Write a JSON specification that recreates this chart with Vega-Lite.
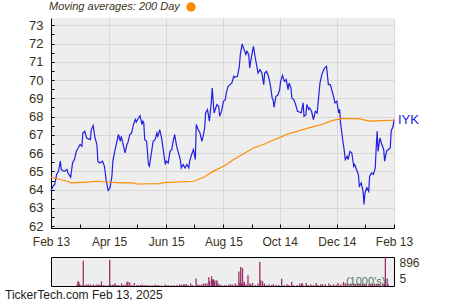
{
  "$schema": "https://vega.github.io/schema/vega-lite/v6.json",
  "padding": {"left": 5, "top": 2, "right": 5, "bottom": 2},
  "background": "white",
  "config": {
    "font": "Liberation Sans",
    "view": {"fill": "#eeeeee", "stroke": null},
    "axis": {"labelColor": "#3b3020", "labelFontSize": 12, "labelFont": "Liberation Sans", "domainColor": "#000000", "tickColor": "#000000", "gridColor": "#d8d8d8", "title": null}
  },
  "title": {"text": "TickerTech.com  Feb 13, 2025", "orient": "bottom", "anchor": "start", "fontSize": 12, "fontWeight": "normal", "font": "Liberation Sans", "color": "#222222", "offset": 2, "dx": -23.5},
  "datasets": {
    "price": [
      {"date": "2024-02-13", "value": 63.91}, {"date": "2024-02-15", "value": 64.19}, {"date": "2024-02-17", "value": 64.28}, {"date": "2024-02-19", "value": 64.83},
      {"date": "2024-02-21", "value": 65.0}, {"date": "2024-02-23", "value": 65.56}, {"date": "2024-02-24", "value": 65.1}, {"date": "2024-02-27", "value": 65.0},
      {"date": "2024-03-01", "value": 65.1}, {"date": "2024-03-02", "value": 64.92}, {"date": "2024-03-05", "value": 64.68}, {"date": "2024-03-07", "value": 65.46},
      {"date": "2024-03-09", "value": 65.65}, {"date": "2024-03-11", "value": 66.1}, {"date": "2024-03-13", "value": 66.28}, {"date": "2024-03-15", "value": 66.47},
      {"date": "2024-03-17", "value": 66.38}, {"date": "2024-03-18", "value": 67.1}, {"date": "2024-03-20", "value": 67.2}, {"date": "2024-03-22", "value": 66.83},
      {"date": "2024-03-26", "value": 66.74}, {"date": "2024-03-27", "value": 67.29}, {"date": "2024-03-29", "value": 67.51}, {"date": "2024-03-31", "value": 66.83},
      {"date": "2024-04-02", "value": 66.47}, {"date": "2024-04-03", "value": 65.56}, {"date": "2024-04-05", "value": 65.46}, {"date": "2024-04-08", "value": 65.56},
      {"date": "2024-04-10", "value": 65.28}, {"date": "2024-04-12", "value": 64.46}, {"date": "2024-04-14", "value": 63.95}, {"date": "2024-04-16", "value": 64.1},
      {"date": "2024-04-18", "value": 64.74}, {"date": "2024-04-19", "value": 65.56}, {"date": "2024-04-21", "value": 66.1}, {"date": "2024-04-23", "value": 66.56},
      {"date": "2024-04-25", "value": 67.02}, {"date": "2024-04-27", "value": 66.65}, {"date": "2024-04-28", "value": 66.92}, {"date": "2024-04-30", "value": 66.47},
      {"date": "2024-05-02", "value": 66.01}, {"date": "2024-05-04", "value": 66.47}, {"date": "2024-05-05", "value": 66.56}, {"date": "2024-05-07", "value": 67.02},
      {"date": "2024-05-09", "value": 67.1}, {"date": "2024-05-11", "value": 67.57}, {"date": "2024-05-13", "value": 67.84}, {"date": "2024-05-14", "value": 67.7},
      {"date": "2024-05-16", "value": 67.9}, {"date": "2024-05-18", "value": 68.05}, {"date": "2024-05-20", "value": 67.57}, {"date": "2024-05-21", "value": 67.75},
      {"date": "2024-05-22", "value": 67.65}, {"date": "2024-05-23", "value": 66.74}, {"date": "2024-05-25", "value": 66.65}, {"date": "2024-05-27", "value": 65.38},
      {"date": "2024-05-28", "value": 65.28}, {"date": "2024-06-01", "value": 66.65}, {"date": "2024-06-03", "value": 66.74}, {"date": "2024-06-05", "value": 67.1},
      {"date": "2024-06-06", "value": 66.92}, {"date": "2024-06-08", "value": 67.29}, {"date": "2024-06-10", "value": 66.83}, {"date": "2024-06-12", "value": 66.1},
      {"date": "2024-06-14", "value": 65.38}, {"date": "2024-06-15", "value": 65.56}, {"date": "2024-06-17", "value": 65.46}, {"date": "2024-06-19", "value": 66.1},
      {"date": "2024-06-21", "value": 66.2}, {"date": "2024-06-22", "value": 66.56}, {"date": "2024-06-24", "value": 67.02}, {"date": "2024-06-26", "value": 66.38},
      {"date": "2024-06-28", "value": 66.01}, {"date": "2024-06-30", "value": 65.65}, {"date": "2024-07-01", "value": 65.19}, {"date": "2024-07-03", "value": 65.38},
      {"date": "2024-07-05", "value": 65.19}, {"date": "2024-07-07", "value": 65.38}, {"date": "2024-07-09", "value": 65.19}, {"date": "2024-07-10", "value": 65.56},
      {"date": "2024-07-12", "value": 65.92}, {"date": "2024-07-14", "value": 66.2}, {"date": "2024-07-16", "value": 65.65}, {"date": "2024-07-17", "value": 67.57},
      {"date": "2024-07-19", "value": 67.29}, {"date": "2024-07-21", "value": 67.1}, {"date": "2024-07-23", "value": 66.65}, {"date": "2024-07-25", "value": 67.1},
      {"date": "2024-07-26", "value": 67.38}, {"date": "2024-07-27", "value": 68.2}, {"date": "2024-07-29", "value": 68.39}, {"date": "2024-07-31", "value": 67.75},
      {"date": "2024-08-02", "value": 68.75}, {"date": "2024-08-03", "value": 69.57}, {"date": "2024-08-05", "value": 68.2}, {"date": "2024-08-08", "value": 68.66},
      {"date": "2024-08-10", "value": 68.57}, {"date": "2024-08-11", "value": 68.02}, {"date": "2024-08-13", "value": 68.3}, {"date": "2024-08-15", "value": 68.84},
      {"date": "2024-08-17", "value": 68.93}, {"date": "2024-08-18", "value": 69.3}, {"date": "2024-08-20", "value": 69.66}, {"date": "2024-08-22", "value": 69.75},
      {"date": "2024-08-24", "value": 69.84}, {"date": "2024-08-26", "value": 70.21}, {"date": "2024-08-27", "value": 70.15}, {"date": "2024-08-30", "value": 70.21},
      {"date": "2024-09-01", "value": 70.76}, {"date": "2024-09-02", "value": 71.4}, {"date": "2024-09-04", "value": 71.98}, {"date": "2024-09-06", "value": 71.67},
      {"date": "2024-09-08", "value": 71.4}, {"date": "2024-09-09", "value": 71.58}, {"date": "2024-09-11", "value": 71.4}, {"date": "2024-09-12", "value": 70.66},
      {"date": "2024-09-14", "value": 71.3}, {"date": "2024-09-16", "value": 71.85}, {"date": "2024-09-18", "value": 71.21}, {"date": "2024-09-20", "value": 70.66},
      {"date": "2024-09-21", "value": 70.39}, {"date": "2024-09-23", "value": 70.57}, {"date": "2024-09-25", "value": 70.39}, {"date": "2024-09-27", "value": 69.75},
      {"date": "2024-09-28", "value": 70.39}, {"date": "2024-09-30", "value": 70.48}, {"date": "2024-10-02", "value": 70.21}, {"date": "2024-10-04", "value": 69.75},
      {"date": "2024-10-06", "value": 69.02}, {"date": "2024-10-07", "value": 68.93}, {"date": "2024-10-08", "value": 68.51}, {"date": "2024-10-10", "value": 69.11},
      {"date": "2024-10-12", "value": 69.17}, {"date": "2024-10-14", "value": 69.48}, {"date": "2024-10-15", "value": 69.93}, {"date": "2024-10-17", "value": 70.26},
      {"date": "2024-10-19", "value": 69.93}, {"date": "2024-10-21", "value": 70.03}, {"date": "2024-10-23", "value": 69.48}, {"date": "2024-10-24", "value": 69.84},
      {"date": "2024-10-26", "value": 69.57}, {"date": "2024-10-27", "value": 69.02}, {"date": "2024-10-29", "value": 68.93}, {"date": "2024-10-31", "value": 68.66},
      {"date": "2024-11-02", "value": 68.29}, {"date": "2024-11-04", "value": 68.25}, {"date": "2024-11-06", "value": 68.2}, {"date": "2024-11-08", "value": 68.75},
      {"date": "2024-11-09", "value": 68.02}, {"date": "2024-11-11", "value": 68.11}, {"date": "2024-11-12", "value": 68.66}, {"date": "2024-11-14", "value": 68.39},
      {"date": "2024-11-15", "value": 68.47}, {"date": "2024-11-17", "value": 68.29}, {"date": "2024-11-19", "value": 67.84}, {"date": "2024-11-21", "value": 68.29},
      {"date": "2024-11-23", "value": 68.2}, {"date": "2024-11-24", "value": 68.75}, {"date": "2024-11-26", "value": 69.84}, {"date": "2024-11-28", "value": 70.3},
      {"date": "2024-11-30", "value": 70.57}, {"date": "2024-12-01", "value": 70.66}, {"date": "2024-12-03", "value": 70.76}, {"date": "2024-12-05", "value": 69.75},
      {"date": "2024-12-07", "value": 69.75}, {"date": "2024-12-09", "value": 69.39}, {"date": "2024-12-10", "value": 69.2}, {"date": "2024-12-12", "value": 68.75},
      {"date": "2024-12-14", "value": 68.84}, {"date": "2024-12-16", "value": 68.2}, {"date": "2024-12-17", "value": 68.39}, {"date": "2024-12-18", "value": 67.65},
      {"date": "2024-12-20", "value": 66.83}, {"date": "2024-12-22", "value": 66.1}, {"date": "2024-12-23", "value": 65.65}, {"date": "2024-12-25", "value": 65.83},
      {"date": "2024-12-26", "value": 65.65}, {"date": "2024-12-28", "value": 66.1}, {"date": "2024-12-30", "value": 66.01}, {"date": "2025-01-01", "value": 65.28},
      {"date": "2025-01-02", "value": 65.38}, {"date": "2025-01-04", "value": 65.1}, {"date": "2025-01-06", "value": 64.83}, {"date": "2025-01-07", "value": 64.19},
      {"date": "2025-01-09", "value": 64.37}, {"date": "2025-01-11", "value": 63.91}, {"date": "2025-01-12", "value": 63.19}, {"date": "2025-01-13", "value": 63.82},
      {"date": "2025-01-15", "value": 64.1}, {"date": "2025-01-17", "value": 63.91}, {"date": "2025-01-18", "value": 64.74}, {"date": "2025-01-20", "value": 64.92},
      {"date": "2025-01-22", "value": 64.83}, {"date": "2025-01-24", "value": 65.19}, {"date": "2025-01-25", "value": 66.28}, {"date": "2025-01-26", "value": 67.2},
      {"date": "2025-01-27", "value": 66.1}, {"date": "2025-01-29", "value": 66.83}, {"date": "2025-01-31", "value": 66.47}, {"date": "2025-02-02", "value": 66.2},
      {"date": "2025-02-03", "value": 65.56}, {"date": "2025-02-05", "value": 66.1}, {"date": "2025-02-07", "value": 66.2}, {"date": "2025-02-09", "value": 66.28},
      {"date": "2025-02-10", "value": 67.2}, {"date": "2025-02-12", "value": 67.47}, {"date": "2025-02-13", "value": 67.84}
    ],
    "ma": [
      {"date": "2024-02-13", "value": 64.68}, {"date": "2024-03-01", "value": 64.46}, {"date": "2024-03-06", "value": 64.37}, {"date": "2024-03-22", "value": 64.41},
      {"date": "2024-04-02", "value": 64.46}, {"date": "2024-04-12", "value": 64.42}, {"date": "2024-04-27", "value": 64.37}, {"date": "2024-05-11", "value": 64.37},
      {"date": "2024-05-14", "value": 64.31}, {"date": "2024-06-08", "value": 64.33}, {"date": "2024-06-12", "value": 64.39}, {"date": "2024-07-14", "value": 64.46},
      {"date": "2024-07-25", "value": 64.68}, {"date": "2024-08-04", "value": 65.0}, {"date": "2024-08-17", "value": 65.34}, {"date": "2024-08-26", "value": 65.65},
      {"date": "2024-09-16", "value": 66.28}, {"date": "2024-09-28", "value": 66.5}, {"date": "2024-10-04", "value": 66.65}, {"date": "2024-10-16", "value": 66.89},
      {"date": "2024-10-21", "value": 67.02}, {"date": "2024-11-14", "value": 67.38}, {"date": "2024-11-28", "value": 67.57}, {"date": "2024-12-09", "value": 67.78},
      {"date": "2024-12-19", "value": 67.89}, {"date": "2025-01-06", "value": 67.89}, {"date": "2025-01-18", "value": 67.75}, {"date": "2025-01-31", "value": 67.78},
      {"date": "2025-02-13", "value": 67.8}
    ],
    "label": [
      {"date": "2025-02-13", "value": 67.84, "ticker": "IYK"}
    ],
    "volume": [
      {"date": "2024-03-07", "vol": 30}, {"date": "2024-03-08", "vol": 139}, {"date": "2024-03-09", "vol": 139}, {"date": "2024-03-10", "vol": 60},
      {"date": "2024-03-12", "vol": 30}, {"date": "2024-03-14", "vol": 779}, {"date": "2024-03-16", "vol": 32}, {"date": "2024-03-18", "vol": 43},
      {"date": "2024-03-20", "vol": 43}, {"date": "2024-03-22", "vol": 43}, {"date": "2024-03-25", "vol": 43}, {"date": "2024-03-27", "vol": 20},
      {"date": "2024-03-29", "vol": 43}, {"date": "2024-03-31", "vol": 43}, {"date": "2024-04-02", "vol": 30}, {"date": "2024-04-03", "vol": 139},
      {"date": "2024-04-05", "vol": 20}, {"date": "2024-04-07", "vol": 20}, {"date": "2024-04-10", "vol": 20}, {"date": "2024-04-12", "vol": 811},
      {"date": "2024-04-13", "vol": 43}, {"date": "2024-04-15", "vol": 43}, {"date": "2024-04-17", "vol": 43}, {"date": "2024-04-18", "vol": 75},
      {"date": "2024-04-20", "vol": 30}, {"date": "2024-04-22", "vol": 30}, {"date": "2024-04-25", "vol": 75}, {"date": "2024-04-27", "vol": 30},
      {"date": "2024-04-29", "vol": 40}, {"date": "2024-05-01", "vol": 128}, {"date": "2024-05-02", "vol": 128}, {"date": "2024-05-04", "vol": 110},
      {"date": "2024-05-06", "vol": 30}, {"date": "2024-05-09", "vol": 96}, {"date": "2024-05-12", "vol": 30}, {"date": "2024-05-14", "vol": 20},
      {"date": "2024-05-16", "vol": 30}, {"date": "2024-05-18", "vol": 43}, {"date": "2024-05-20", "vol": 20}, {"date": "2024-05-22", "vol": 20},
      {"date": "2024-05-24", "vol": 30}, {"date": "2024-05-27", "vol": 20}, {"date": "2024-05-29", "vol": 20}, {"date": "2024-06-01", "vol": 43},
      {"date": "2024-06-03", "vol": 20}, {"date": "2024-06-05", "vol": 30}, {"date": "2024-06-08", "vol": 20}, {"date": "2024-06-12", "vol": 43},
      {"date": "2024-06-14", "vol": 20}, {"date": "2024-06-16", "vol": 20}, {"date": "2024-06-19", "vol": 20}, {"date": "2024-06-22", "vol": 20},
      {"date": "2024-06-25", "vol": 30}, {"date": "2024-06-28", "vol": 43}, {"date": "2024-06-30", "vol": 43}, {"date": "2024-07-02", "vol": 43},
      {"date": "2024-07-03", "vol": 43}, {"date": "2024-07-05", "vol": 64}, {"date": "2024-07-07", "vol": 30}, {"date": "2024-07-10", "vol": 75},
      {"date": "2024-07-12", "vol": 30}, {"date": "2024-07-16", "vol": 235}, {"date": "2024-07-18", "vol": 43}, {"date": "2024-07-20", "vol": 30},
      {"date": "2024-07-22", "vol": 43}, {"date": "2024-07-24", "vol": 75}, {"date": "2024-07-26", "vol": 75}, {"date": "2024-07-28", "vol": 75},
      {"date": "2024-07-30", "vol": 267}, {"date": "2024-07-31", "vol": 150}, {"date": "2024-08-02", "vol": 299}, {"date": "2024-08-03", "vol": 190},
      {"date": "2024-08-04", "vol": 213}, {"date": "2024-08-05", "vol": 171}, {"date": "2024-08-07", "vol": 171}, {"date": "2024-08-08", "vol": 171},
      {"date": "2024-08-09", "vol": 75}, {"date": "2024-08-11", "vol": 43}, {"date": "2024-08-13", "vol": 21}, {"date": "2024-08-16", "vol": 21},
      {"date": "2024-08-18", "vol": 30}, {"date": "2024-08-21", "vol": 43}, {"date": "2024-08-23", "vol": 43}, {"date": "2024-08-25", "vol": 43},
      {"date": "2024-08-28", "vol": 75}, {"date": "2024-08-30", "vol": 30}, {"date": "2024-09-01", "vol": 448}, {"date": "2024-09-02", "vol": 100},
      {"date": "2024-09-03", "vol": 587}, {"date": "2024-09-04", "vol": 75}, {"date": "2024-09-05", "vol": 555}, {"date": "2024-09-06", "vol": 60},
      {"date": "2024-09-07", "vol": 128}, {"date": "2024-09-09", "vol": 43}, {"date": "2024-09-11", "vol": 331}, {"date": "2024-09-13", "vol": 75},
      {"date": "2024-09-14", "vol": 43}, {"date": "2024-09-16", "vol": 96}, {"date": "2024-09-19", "vol": 30}, {"date": "2024-09-22", "vol": 75},
      {"date": "2024-09-24", "vol": 747}, {"date": "2024-09-25", "vol": 181}, {"date": "2024-09-27", "vol": 150}, {"date": "2024-09-29", "vol": 75},
      {"date": "2024-10-01", "vol": 30}, {"date": "2024-10-04", "vol": 53}, {"date": "2024-10-07", "vol": 30}, {"date": "2024-10-09", "vol": 53},
      {"date": "2024-10-12", "vol": 30}, {"date": "2024-10-15", "vol": 30}, {"date": "2024-10-18", "vol": 224}, {"date": "2024-10-21", "vol": 30},
      {"date": "2024-10-24", "vol": 53}, {"date": "2024-10-26", "vol": 30}, {"date": "2024-10-29", "vol": 128}, {"date": "2024-10-31", "vol": 30},
      {"date": "2024-11-04", "vol": 30}, {"date": "2024-11-07", "vol": 75}, {"date": "2024-11-09", "vol": 75}, {"date": "2024-11-10", "vol": 75},
      {"date": "2024-11-14", "vol": 96}, {"date": "2024-11-16", "vol": 30}, {"date": "2024-11-19", "vol": 53}, {"date": "2024-11-22", "vol": 30},
      {"date": "2024-11-25", "vol": 96}, {"date": "2024-11-27", "vol": 30}, {"date": "2024-11-30", "vol": 53}, {"date": "2024-12-02", "vol": 53},
      {"date": "2024-12-05", "vol": 53}, {"date": "2024-12-09", "vol": 75}, {"date": "2024-12-11", "vol": 30}, {"date": "2024-12-14", "vol": 53},
      {"date": "2024-12-17", "vol": 40}, {"date": "2024-12-19", "vol": 96}, {"date": "2024-12-22", "vol": 53}, {"date": "2024-12-25", "vol": 128},
      {"date": "2024-12-27", "vol": 75}, {"date": "2024-12-29", "vol": 75}, {"date": "2024-12-31", "vol": 60}, {"date": "2025-01-02", "vol": 75},
      {"date": "2025-01-05", "vol": 75}, {"date": "2025-01-07", "vol": 60}, {"date": "2025-01-09", "vol": 75}, {"date": "2025-01-11", "vol": 75},
      {"date": "2025-01-13", "vol": 60}, {"date": "2025-01-15", "vol": 75}, {"date": "2025-01-17", "vol": 60}, {"date": "2025-01-19", "vol": 75},
      {"date": "2025-01-22", "vol": 60}, {"date": "2025-01-24", "vol": 75}, {"date": "2025-01-26", "vol": 60}, {"date": "2025-01-28", "vol": 75},
      {"date": "2025-01-30", "vol": 60}, {"date": "2025-02-01", "vol": 75}, {"date": "2025-02-03", "vol": 60}, {"date": "2025-02-06", "vol": 75},
      {"date": "2025-02-08", "vol": 60}, {"date": "2025-02-09", "vol": 896}, {"date": "2025-02-11", "vol": 235}, {"date": "2025-02-12", "vol": 60}
    ]
  },
  "spacing": 8,
  "vconcat": [
    {
      "width": 343,
      "height": 210,
      "encoding": {
        "x": {
          "field": "date", "type": "temporal",
          "scale": {"type": "utc", "domain": [{"year": 2024, "month": 2, "date": 13, "utc": true}, {"year": 2025, "month": 2, "date": 13, "utc": true}]},
          "axis": {
            "values": [
              {"year": 2024, "month": 2, "date": 13, "utc": true}, {"year": 2024, "month": 3, "date": 15, "utc": true},
              {"year": 2024, "month": 4, "date": 15, "utc": true}, {"year": 2024, "month": 5, "date": 15, "utc": true},
              {"year": 2024, "month": 6, "date": 15, "utc": true}, {"year": 2024, "month": 7, "date": 15, "utc": true},
              {"year": 2024, "month": 8, "date": 15, "utc": true}, {"year": 2024, "month": 9, "date": 14, "utc": true},
              {"year": 2024, "month": 10, "date": 14, "utc": true}, {"year": 2024, "month": 11, "date": 14, "utc": true},
              {"year": 2024, "month": 12, "date": 14, "utc": true}, {"year": 2025, "month": 1, "date": 13, "utc": true},
              {"year": 2025, "month": 2, "date": 13, "utc": true}
            ],
            "format": "%b %d",
            "labelExpr": "indexof(['Feb 13','Apr 15','Jun 15','Aug 15','Oct 14','Dec 14'], datum.label) >= 0 ? datum.label : ''",
            "labelFlush": false,
            "labelOverlap": false,
            "tickSize": -4,
            "labelPadding": 12,
            "gridOpacity": {"condition": {"test": "indexof(['Feb 13','Apr 15','Jun 15','Aug 15','Oct 14','Dec 14'], utcFormat(datum.value, '%b %d')) >= 0", "value": 1}, "value": 0}
          }
        },
        "y": {
          "field": "value", "type": "quantitative",
          "scale": {"domain": [61.9, 73.4], "nice": false, "zero": false},
          "axis": {
            "values": [62, 62.5, 63, 63.5, 64, 64.5, 65, 65.5, 66, 66.5, 67, 67.5, 68, 68.5, 69, 69.5, 70, 70.5, 71, 71.5, 72, 72.5, 73],
            "labelExpr": "datum.value % 1 == 0 ? format(datum.value, 'd') : ''",
            "labelFlush": false,
            "labelOverlap": false,
            "labelFontSize": 13,
            "tickSize": -3,
            "labelPadding": 11,
            "gridOpacity": {"condition": {"test": "datum.value % 1 == 0", "value": 1}, "value": 0}
          }
        }
      },
      "layer": [
        {
          "data": {"name": "price"},
          "mark": {"type": "line", "color": "#2020e0", "strokeWidth": 1.2}
        },
        {
          "data": {"name": "ma"},
          "mark": {"type": "line", "strokeWidth": 1.2},
          "encoding": {
            "color": {
              "datum": "200 Day",
              "scale": {"range": ["#ff8c00"]},
              "legend": {
                "orient": "none", "legendX": -2, "legendY": -16,
                "title": "Moving averages: 200 Day", "titleOrient": "left",
                "titleFontStyle": "italic", "titleFontWeight": "normal", "titleFontSize": 11, "titleFont": "Liberation Sans",
                "titleColor": "#3b3020", "titlePadding": 6, "titleBaseline": "middle",
                "labelExpr": "''", "symbolType": "circle", "symbolSize": 90,
                "encode": {"symbols": {"update": {"fill": {"value": "#ff8c00"}, "stroke": {"value": "#ff8c00"}, "strokeWidth": {"value": 0}, "opacity": {"value": 1}}}}
              }
            }
          }
        },
        {
          "data": {"name": "label"},
          "mark": {"type": "text", "align": "left", "baseline": "middle", "dx": 4, "fontSize": 13, "color": "#2020e0", "font": "Liberation Sans"},
          "encoding": {
            "text": {"field": "ticker"}
          }
        }
      ]
    },
    {
      "width": 343,
      "height": 29,
      "view": {"fill": "#eeeeee", "stroke": "#000000", "strokeWidth": 1},
      "layer": [
        {
          "data": {"name": "volume"},
          "mark": {"type": "bar", "color": "#99306a", "size": 1.3},
          "encoding": {
            "x": {
              "field": "date", "type": "temporal",
              "scale": {"type": "utc", "domain": [{"year": 2024, "month": 2, "date": 13, "utc": true}, {"year": 2025, "month": 2, "date": 13, "utc": true}]},
              "axis": null
            },
            "y": {
              "field": "vol", "type": "quantitative",
              "scale": {"domain": [0, 896], "nice": false},
              "axis": {"orient": "right", "values": [5, 896], "labelFlush": true, "ticks": false, "domain": false, "grid": false, "labelPadding": 5}
            }
          }
        },
        {
          "data": {"values": [{}]},
          "mark": {"type": "text", "align": "right", "baseline": "bottom", "dy": 1, "fontSize": 11, "color": "#4f7a60", "font": "Liberation Sans"},
          "encoding": {
            "x": {"datum": {"year": 2025, "month": 2, "date": 9, "utc": true}, "type": "temporal"},
            "y": {"datum": 0, "type": "quantitative"},
            "text": {"value": "(1000's)"}
          }
        }
      ]
    }
  ]
}
